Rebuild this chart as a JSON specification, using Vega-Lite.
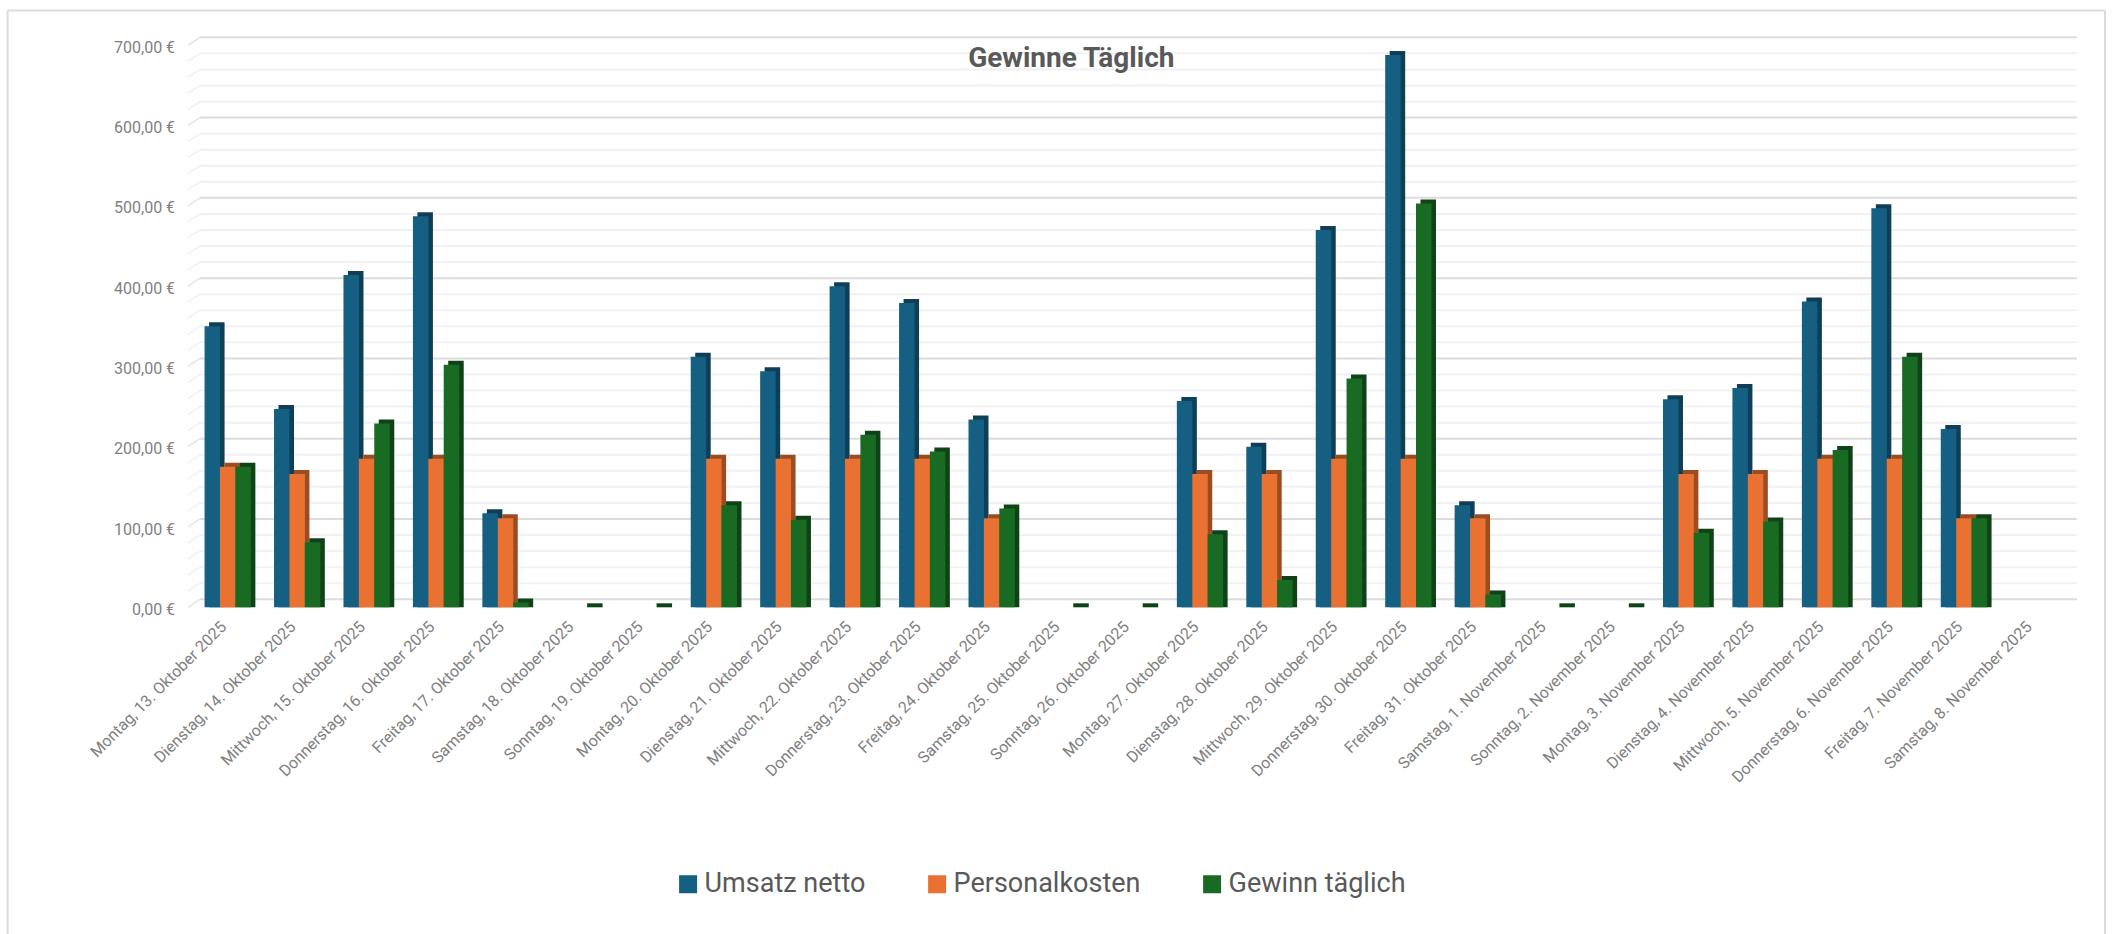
{"$schema":"https://vega.github.io/schema/vega-lite/v6.json","width":2097.4,"height":923.5,"autosize":"none","padding":{"left":7.6,"top":10.5,"right":9,"bottom":0},"background":"white","view":{"stroke":null,"fill":"white"},"config":{"font":"Roboto"},"title":{"text":"Gewinne Täglich","anchor":"middle","frame":"group","orient":"top","offset":0,"dx":15,"dy":63,"fontSize":28,"fontWeight":"bold","color":"#595959","font":"Roboto"},"datasets":{"bars":[{"day":"Montag, 13. Oktober 2025","series":"Umsatz netto","value":350},{"day":"Montag, 13. Oktober 2025","series":"Personalkosten","value":175},{"day":"Montag, 13. Oktober 2025","series":"Gewinn täglich","value":175},{"day":"Dienstag, 14. Oktober 2025","series":"Umsatz netto","value":247},{"day":"Dienstag, 14. Oktober 2025","series":"Personalkosten","value":166},{"day":"Dienstag, 14. Oktober 2025","series":"Gewinn täglich","value":81},{"day":"Mittwoch, 15. Oktober 2025","series":"Umsatz netto","value":414},{"day":"Mittwoch, 15. Oktober 2025","series":"Personalkosten","value":185},{"day":"Mittwoch, 15. Oktober 2025","series":"Gewinn täglich","value":229},{"day":"Donnerstag, 16. Oktober 2025","series":"Umsatz netto","value":487},{"day":"Donnerstag, 16. Oktober 2025","series":"Personalkosten","value":185},{"day":"Donnerstag, 16. Oktober 2025","series":"Gewinn täglich","value":302},{"day":"Freitag, 17. Oktober 2025","series":"Umsatz netto","value":117},{"day":"Freitag, 17. Oktober 2025","series":"Personalkosten","value":111},{"day":"Freitag, 17. Oktober 2025","series":"Gewinn täglich","value":6},{"day":"Samstag, 18. Oktober 2025","series":"Gewinn täglich","value":0},{"day":"Sonntag, 19. Oktober 2025","series":"Gewinn täglich","value":0},{"day":"Montag, 20. Oktober 2025","series":"Umsatz netto","value":312},{"day":"Montag, 20. Oktober 2025","series":"Personalkosten","value":185},{"day":"Montag, 20. Oktober 2025","series":"Gewinn täglich","value":127},{"day":"Dienstag, 21. Oktober 2025","series":"Umsatz netto","value":294},{"day":"Dienstag, 21. Oktober 2025","series":"Personalkosten","value":185},{"day":"Dienstag, 21. Oktober 2025","series":"Gewinn täglich","value":109},{"day":"Mittwoch, 22. Oktober 2025","series":"Umsatz netto","value":400},{"day":"Mittwoch, 22. Oktober 2025","series":"Personalkosten","value":185},{"day":"Mittwoch, 22. Oktober 2025","series":"Gewinn täglich","value":215},{"day":"Donnerstag, 23. Oktober 2025","series":"Umsatz netto","value":379},{"day":"Donnerstag, 23. Oktober 2025","series":"Personalkosten","value":185},{"day":"Donnerstag, 23. Oktober 2025","series":"Gewinn täglich","value":194},{"day":"Freitag, 24. Oktober 2025","series":"Umsatz netto","value":234},{"day":"Freitag, 24. Oktober 2025","series":"Personalkosten","value":111},{"day":"Freitag, 24. Oktober 2025","series":"Gewinn täglich","value":123},{"day":"Samstag, 25. Oktober 2025","series":"Gewinn täglich","value":0},{"day":"Sonntag, 26. Oktober 2025","series":"Gewinn täglich","value":0},{"day":"Montag, 27. Oktober 2025","series":"Umsatz netto","value":257},{"day":"Montag, 27. Oktober 2025","series":"Personalkosten","value":166},{"day":"Montag, 27. Oktober 2025","series":"Gewinn täglich","value":91},{"day":"Dienstag, 28. Oktober 2025","series":"Umsatz netto","value":200},{"day":"Dienstag, 28. Oktober 2025","series":"Personalkosten","value":166},{"day":"Dienstag, 28. Oktober 2025","series":"Gewinn täglich","value":34},{"day":"Mittwoch, 29. Oktober 2025","series":"Umsatz netto","value":470},{"day":"Mittwoch, 29. Oktober 2025","series":"Personalkosten","value":185},{"day":"Mittwoch, 29. Oktober 2025","series":"Gewinn täglich","value":285},{"day":"Donnerstag, 30. Oktober 2025","series":"Umsatz netto","value":688},{"day":"Donnerstag, 30. Oktober 2025","series":"Personalkosten","value":185},{"day":"Donnerstag, 30. Oktober 2025","series":"Gewinn täglich","value":503},{"day":"Freitag, 31. Oktober 2025","series":"Umsatz netto","value":127},{"day":"Freitag, 31. Oktober 2025","series":"Personalkosten","value":111},{"day":"Freitag, 31. Oktober 2025","series":"Gewinn täglich","value":16},{"day":"Samstag, 1. November 2025","series":"Gewinn täglich","value":0},{"day":"Sonntag, 2. November 2025","series":"Gewinn täglich","value":0},{"day":"Montag, 3. November 2025","series":"Umsatz netto","value":259},{"day":"Montag, 3. November 2025","series":"Personalkosten","value":166},{"day":"Montag, 3. November 2025","series":"Gewinn täglich","value":93},{"day":"Dienstag, 4. November 2025","series":"Umsatz netto","value":273},{"day":"Dienstag, 4. November 2025","series":"Personalkosten","value":166},{"day":"Dienstag, 4. November 2025","series":"Gewinn täglich","value":107},{"day":"Mittwoch, 5. November 2025","series":"Umsatz netto","value":381},{"day":"Mittwoch, 5. November 2025","series":"Personalkosten","value":185},{"day":"Mittwoch, 5. November 2025","series":"Gewinn täglich","value":196},{"day":"Donnerstag, 6. November 2025","series":"Umsatz netto","value":497},{"day":"Donnerstag, 6. November 2025","series":"Personalkosten","value":185},{"day":"Donnerstag, 6. November 2025","series":"Gewinn täglich","value":312},{"day":"Freitag, 7. November 2025","series":"Umsatz netto","value":222},{"day":"Freitag, 7. November 2025","series":"Personalkosten","value":111},{"day":"Freitag, 7. November 2025","series":"Gewinn täglich","value":111}],"major":[{"level":0,"wall":10},{"level":100,"wall":110},{"level":200,"wall":210},{"level":300,"wall":310},{"level":400,"wall":410},{"level":500,"wall":510},{"level":600,"wall":610},{"level":700,"wall":710}],"minor":[{"level":20,"wall":30},{"level":40,"wall":50},{"level":60,"wall":70},{"level":80,"wall":90},{"level":120,"wall":130},{"level":140,"wall":150},{"level":160,"wall":170},{"level":180,"wall":190},{"level":220,"wall":230},{"level":240,"wall":250},{"level":260,"wall":270},{"level":280,"wall":290},{"level":320,"wall":330},{"level":340,"wall":350},{"level":360,"wall":370},{"level":380,"wall":390},{"level":420,"wall":430},{"level":440,"wall":450},{"level":460,"wall":470},{"level":480,"wall":490},{"level":520,"wall":530},{"level":540,"wall":550},{"level":560,"wall":570},{"level":580,"wall":590},{"level":620,"wall":630},{"level":640,"wall":650},{"level":660,"wall":670},{"level":680,"wall":690}],"frame":[{"edge":"frame"}]},"layer":[{"data":{"name":"frame"},"mark":{"type":"rule","color":"#dcdcdc","strokeWidth":2,"xOffset":-220.1},"encoding":{"x":{"datum":"Montag, 13. Oktober 2025","title":null}}},{"data":{"name":"frame"},"mark":{"type":"rule","color":"#dcdcdc","strokeWidth":2,"xOffset":71.6},"encoding":{"x":{"datum":"Samstag, 8. November 2025","title":null}}},{"data":{"name":"frame"},"mark":{"type":"rule","color":"#dcdcdc","strokeWidth":2,"yOffset":-34.8},"encoding":{"y":{"datum":700,"title":null}}},{"data":{"name":"minor"},"mark":{"type":"rule","color":"#f1f1f1","strokeWidth":2,"xOffset":-27.7,"x2Offset":43.6},"encoding":{"x":{"datum":"Montag, 13. Oktober 2025","title":null},"x2":{"datum":"Samstag, 8. November 2025"},"y":{"field":"wall","type":"quantitative","title":null}}},{"data":{"name":"major"},"mark":{"type":"rule","color":"#dcdcdc","strokeWidth":2,"xOffset":-27.7,"x2Offset":43.6},"encoding":{"x":{"datum":"Montag, 13. Oktober 2025","title":null},"x2":{"datum":"Samstag, 8. November 2025"},"y":{"field":"wall","type":"quantitative","title":null}}},{"data":{"name":"minor"},"mark":{"type":"rule","color":"#f1f1f1","strokeWidth":1.5,"xOffset":-40,"x2Offset":-27.7},"encoding":{"x":{"datum":"Montag, 13. Oktober 2025","title":null},"x2":{"datum":"Montag, 13. Oktober 2025"},"y":{"field":"level","type":"quantitative","title":null},"y2":{"field":"wall"}}},{"data":{"name":"major"},"mark":{"type":"rule","color":"#e4e4e4","strokeWidth":1.5,"xOffset":-40,"x2Offset":-27.7},"encoding":{"x":{"datum":"Montag, 13. Oktober 2025","title":null},"x2":{"datum":"Montag, 13. Oktober 2025"},"y":{"field":"level","type":"quantitative","title":null},"y2":{"field":"wall"}}},{"data":{"name":"bars"},"encoding":{"x":{"field":"day","type":"nominal","sort":null,"title":null,"scale":{"domain":["Montag, 13. Oktober 2025","Dienstag, 14. Oktober 2025","Mittwoch, 15. Oktober 2025","Donnerstag, 16. Oktober 2025","Freitag, 17. Oktober 2025","Samstag, 18. Oktober 2025","Sonntag, 19. Oktober 2025","Montag, 20. Oktober 2025","Dienstag, 21. Oktober 2025","Mittwoch, 22. Oktober 2025","Donnerstag, 23. Oktober 2025","Freitag, 24. Oktober 2025","Samstag, 25. Oktober 2025","Sonntag, 26. Oktober 2025","Montag, 27. Oktober 2025","Dienstag, 28. Oktober 2025","Mittwoch, 29. Oktober 2025","Donnerstag, 30. Oktober 2025","Freitag, 31. Oktober 2025","Samstag, 1. November 2025","Sonntag, 2. November 2025","Montag, 3. November 2025","Dienstag, 4. November 2025","Mittwoch, 5. November 2025","Donnerstag, 6. November 2025","Freitag, 7. November 2025","Samstag, 8. November 2025"],"range":[185.4,2060.5],"paddingInner":0,"paddingOuter":0},"axis":{"orient":"bottom","offset":-326.2,"domain":false,"ticks":false,"grid":false,"labelAngle":-45,"labelAlign":"right","labelBaseline":"middle","labelFontSize":16,"labelColor":"#7f7f7f","labelFont":"Roboto","labelPadding":16,"labelOffset":-4,"labelOverlap":false,"labelLimit":400}},"y":{"field":"value","type":"quantitative","title":null,"stack":null,"scale":{"domain":[0,700],"range":[596.8,34.8],"nice":false,"zero":false},"axis":{"orient":"left","offset":-180,"values":[0,100,200,300,400,500,600,700],"domain":false,"ticks":false,"grid":false,"labelFontSize":16,"labelColor":"#7f7f7f","labelFont":"Roboto","labelPadding":13,"labelOffset":2,"labelExpr":"replace(format(datum.value,'.2f'),'.',',')+' €'"}}},"layer":[{"transform":[{"filter":"datum.series === 'Umsatz netto'"}],"mark":{"type":"bar","width":15.5,"xOffset":-10.9,"yOffset":-4,"color":"#0e3f56"}},{"transform":[{"filter":"datum.series === 'Umsatz netto'"}],"mark":{"type":"bar","width":15.5,"xOffset":-15.4},"encoding":{"color":{"field":"series","type":"nominal","scale":{"domain":["Umsatz netto","Personalkosten","Gewinn täglich"],"range":["#156082","#E97132","#196B24"]},"legend":{"orient":"none","legendX":667,"legendY":860,"direction":"horizontal","columns":3,"columnPadding":58,"title":null,"symbolType":"square","symbolSize":324,"symbolStrokeWidth":0,"labelFontSize":27,"labelColor":"#595959","labelFont":"Roboto","labelOffset":3,"labelLimit":400}}}},{"transform":[{"filter":"datum.series === 'Personalkosten'"}],"mark":{"type":"bar","width":15.5,"xOffset":4.5,"yOffset":-4,"color":"#9c4c21"}},{"transform":[{"filter":"datum.series === 'Personalkosten'"}],"mark":{"type":"bar","width":15.5,"xOffset":0},"encoding":{"color":{"field":"series","type":"nominal"}}},{"transform":[{"filter":"datum.series === 'Gewinn täglich'"}],"mark":{"type":"bar","width":15.5,"xOffset":19.9,"yOffset":-4,"color":"#0f4317"}},{"transform":[{"filter":"datum.series === 'Gewinn täglich'"}],"mark":{"type":"bar","width":15.5,"xOffset":15.4},"encoding":{"color":{"field":"series","type":"nominal"}}}]}]}
